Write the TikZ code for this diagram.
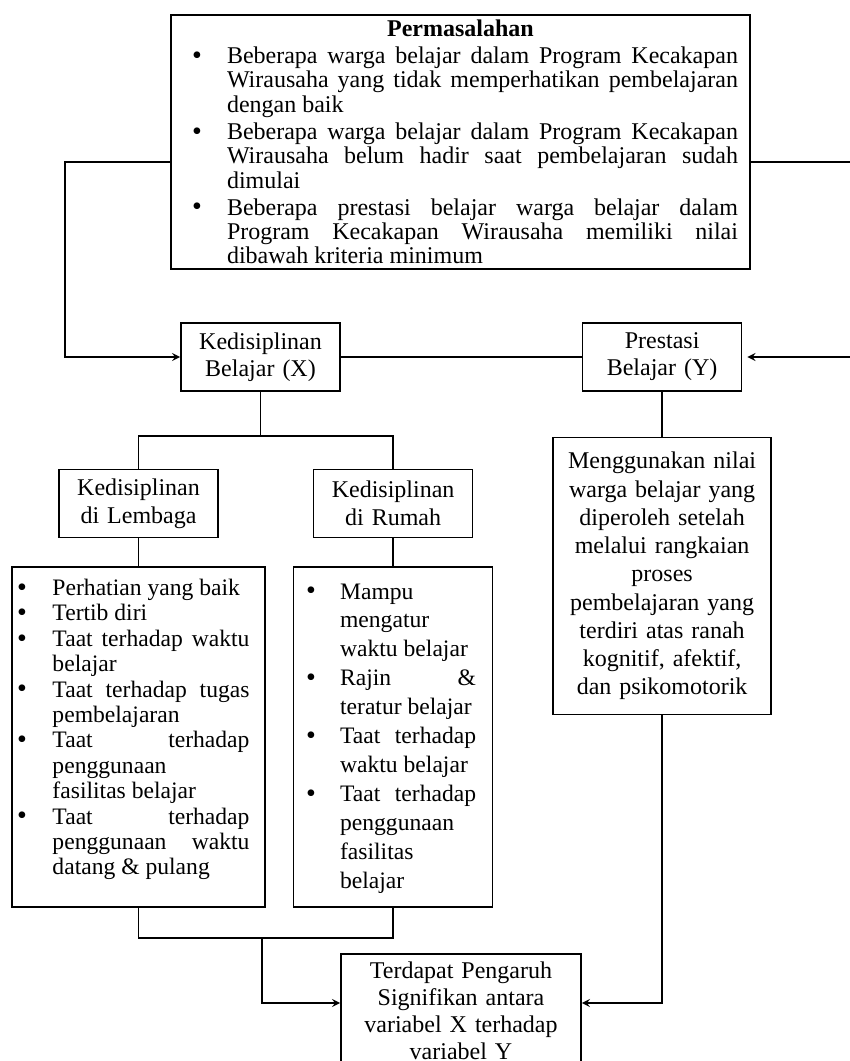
\documentclass[tikz,border=0pt]{standalone}
\usepackage{fontspec}
\setmainfont{Liberation Serif}
\usetikzlibrary{shapes,arrows,positioning}

\newenvironment{blist}[3]{%
  \begin{list}{\rlap{\raisebox{-0.4pt}{\fontsize{14}{14}\selectfont\textbullet}}}{%
    \setlength{\leftmargin}{#1}\setlength{\labelwidth}{0pt}%
    \setlength{\labelsep}{#2}\setlength{\itemsep}{#3}\setlength{\topsep}{#3}%
    \setlength{\partopsep}{0pt}\setlength{\parsep}{0pt}}}%
  {\end{list}}

\begin{document}
\begin{tikzpicture}[
    x=0.5pt, y=-0.5pt,
    node distance=14pt,
    box/.style={rectangle, draw, thick, text width=75pt, inner xsep=2.25pt, minimum height=34pt, align=center, font=\fontsize{12}{13.5}\selectfont},
    listbox/.style={rectangle, draw, thick, align=justify, text height=0pt, inner ysep=1.5pt, text depth=167pt},
    arrow/.style={->, >=stealth, thick}
]
    \useasboundingbox (0,0) rectangle (850,1061);

    \node[rectangle, draw, thick, align=justify, text width=277.5pt, inner xsep=6pt, inner ysep=2pt, minimum height=127pt, font=\fontsize{12}{12.2}\selectfont] (masalah) at (460.5,142) {%
        {\centering\bfseries Permasalahan\par}
        \begin{blist}{22pt}{17.5pt}{1.3pt}
        \item Beberapa warga belajar dalam Program Kecakapan\linebreak Wirausaha yang tidak memperhatikan pembelajaran\linebreak dengan baik
        \item Beberapa warga belajar dalam Program Kecakapan\linebreak Wirausaha belum hadir saat pembelajaran sudah\linebreak dimulai
        \item Beberapa prestasi belajar warga belajar dalam\linebreak Program Kecakapan Wirausaha memiliki nilai\linebreak dibawah kriteria minimum
        \end{blist}};

    \node[box] (disiplin) at (260.5,357) {Kedisiplinan\\Belajar (X)};
    \node[box, right=120.5pt of disiplin] (prestasi) {Prestasi\\Belajar (Y)};

    \node[box, font=\fontsize{12}{14}\selectfont] (lembaga) at (138.5,503.5) {Kedisiplinan\\di Lembaga};
    \node[box, font=\fontsize{12}{14}\selectfont, right=47pt of lembaga] (rumah) {Kedisiplinan\\di Rumah};

    \node[listbox, text width=111pt, inner xsep=7.75pt, font=\fontsize{11.8}{12.7}\selectfont, below=of lembaga] (indLembaga) {%
        \begin{blist}{12.5pt}{17.75pt}{0pt}
        \item Perhatian yang baik
        \item Tertib diri
        \item Taat terhadap waktu\linebreak belajar
        \item Taat terhadap tugas\linebreak pembelajaran
        \item Taat terhadap\linebreak penggunaan\linebreak fasilitas belajar
        \item Taat terhadap\linebreak penggunaan waktu\linebreak datang \& pulang
        \end{blist}};
    \node[listbox, text width=83pt, inner xsep=8.25pt, font=\fontsize{11.8}{14.45}\selectfont, below=of rumah] (indRumah) {%
        \begin{blist}{15pt}{17pt}{0pt}
        \item Mampu\linebreak mengatur\linebreak waktu belajar
        \item Rajin \&\linebreak teratur belajar
        \item Taat terhadap\linebreak waktu belajar
        \item Taat terhadap\linebreak penggunaan\linebreak fasilitas\linebreak belajar
        \end{blist}};

    \node[rectangle, draw, thick, text width=100pt, inner xsep=4.5pt, minimum height=138.5pt, align=center, font=\fontsize{12}{14.125}\selectfont, below=22.5pt of prestasi] (nilai) {Menggunakan nilai\\warga belajar yang\\diperoleh setelah\\melalui rangkaian\\proses\\pembelajaran yang\\terdiri atas ranah\\kognitif, afektif,\\dan psikomotorik};

    \node[rectangle, draw, thick, anchor=north, text width=114pt, inner xsep=3pt, text height=8.5pt, inner ysep=4pt, text depth=60pt, align=center, font=\fontsize{12}{13.4}\selectfont] (hasil) at (461,953) {Terdapat Pengaruh\\Signifikan antara\\variabel X terhadap\\variabel Y};

    \coordinate (kiri) at (65,162);
    \coordinate (kanan) at (852,162);
    \coordinate (cabang) at (260.5,436);
    \coordinate (gabung) at (262,938);
    \coordinate (masuk) at (461,1003);

    \draw[arrow] (masalah.west |- kiri) -- (kiri) |- (disiplin.west);
    \draw[arrow, shorten >=2.5pt] (masalah.east |- kanan) -- (kanan) |- (prestasi.east);
    \draw[thick] (disiplin.east) -- (prestasi.west);

    \draw[thick] (disiplin.south) -- (cabang);
    \draw[thick] (lembaga.north) |- (cabang) -| (rumah.north);
    \draw[thick] (lembaga.south) -- (indLembaga.north);
    \draw[thick] (rumah.south) -- (indRumah.north);
    \draw[thick] (prestasi.south) -- (nilai.north);

    \draw[thick] (indLembaga.south) |- (gabung) -| (indRumah.south);
    \draw[arrow] (gabung) |- (hasil.west |- masuk);
    \draw[arrow] (nilai.south) |- (hasil.east |- masuk);
\end{tikzpicture}
\end{document}
